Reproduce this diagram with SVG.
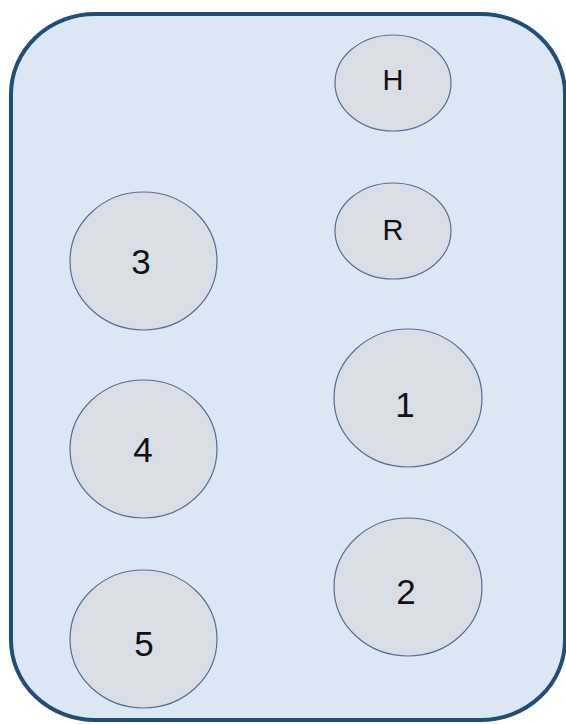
<svg xmlns="http://www.w3.org/2000/svg" width="566" height="724" viewBox="0 0 566 724">
<style>
.node ellipse{fill:#d8dde6;stroke:#5b6d93;stroke-width:1.2}
.node text{font-family:"Liberation Sans",Arial,sans-serif;fill:#111;text-anchor:middle}
.big{font-size:35px}
.small{font-size:29px}
</style>
<rect width="566" height="724" fill="#ffffff"/>
<g id="container">
<rect x="11" y="14" width="554" height="706" rx="84" ry="80" fill="#dce7f4" stroke="#204e78" stroke-width="4"/>
</g>
<g id="connectors"></g>
<g id="node-H" class="node"><ellipse cx="393" cy="83" rx="58" ry="48"/><text class="small" x="393" y="90">H</text></g>
<g id="node-R" class="node"><ellipse cx="393" cy="231" rx="58" ry="48"/><text class="small" x="393" y="240">R</text></g>
<g id="node-3" class="node"><ellipse cx="143.5" cy="261" rx="73.5" ry="69"/><text class="big" x="141" y="274">3</text></g>
<g id="node-4" class="node"><ellipse cx="143.5" cy="449" rx="73.5" ry="69"/><text class="big" x="143" y="462">4</text></g>
<g id="node-5" class="node"><ellipse cx="143.5" cy="639" rx="73.5" ry="69"/><text class="big" x="144" y="656">5</text></g>
<g id="node-1" class="node"><ellipse cx="408" cy="398" rx="74" ry="69"/><text class="big" x="405" y="417">1</text></g>
<g id="node-2" class="node"><ellipse cx="408" cy="587" rx="74" ry="69"/><text class="big" x="406" y="604">2</text></g>
</svg>
